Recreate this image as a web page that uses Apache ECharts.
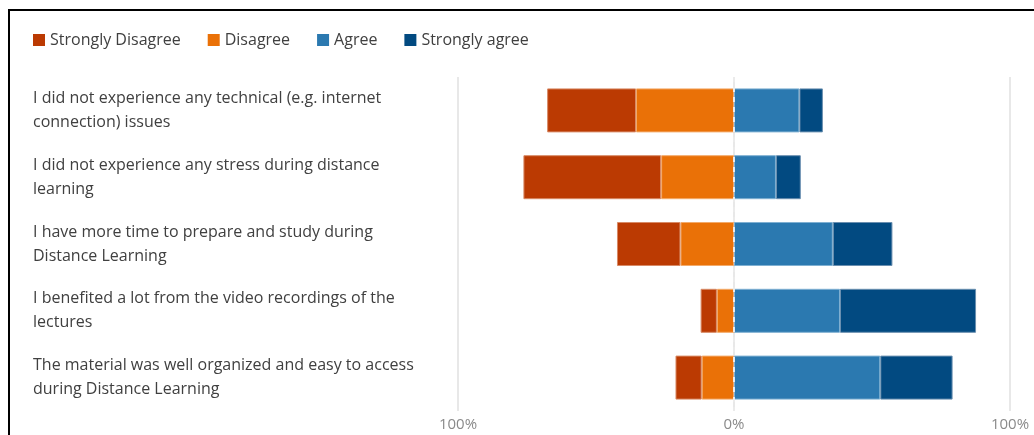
<!DOCTYPE html>
<html>
<head>
<meta charset="utf-8">
<script src="https://cdn.jsdelivr.net/npm/echarts@6/dist/echarts.min.js"></script>
<style>
  html, body { margin: 0; padding: 0; background: #fff; }
  #main { position: absolute; left: 0; top: 0; width: 1034px; height: 435px; }
  #frame { position: absolute; left: 8px; top: 9px; width: 1040px; height: 440px;
           border-top: 2px solid #000; border-left: 2px solid #000; pointer-events: none; }
</style>
</head>
<body>
<div id="main"></div>
<div id="frame"></div>
<script>
// 题目（自上而下）
var categories = [
  'I did not experience any technical (e.g. internet\nconnection) issues',
  'I did not experience any stress during distance\nlearning',
  'I have more time to prepare and study during\nDistance Learning',
  'I benefited a lot from the video recordings of the\nlectures',
  'The material was well organized and easy to access\nduring Distance Learning'
];
// 百分比，读图估计
var stronglyDisagree = [32.2, 49.9, 23.0, 5.9, 9.5];
var disagree = [35.5, 26.4, 19.4, 6.2, 11.7];
var agree = [23.7, 15.2, 35.8, 38.4, 53.0];
var stronglyAgree = [8.5, 9.0, 21.6, 49.3, 26.2];
var legendNames = ['Strongly Disagree', 'Disagree', 'Agree', 'Strongly agree'];
var axisTicks = [-100, 0, 100];

var colors = {
  'Strongly Disagree': '#bb3a02',
  'Disagree': '#ea7107',
  'Agree': '#2b79b0',
  'Strongly agree': '#024a81'
};
var borders = {
  'Strongly Disagree': '#d88a66',
  'Disagree': '#f3aa6a',
  'Agree': '#7fb0d2',
  'Strongly agree': '#6a8fb0'
};

function neg(arr){
  return arr.map(function(v){ return -v; });
}

function barSeries(name, data){
  return {
    name: name,
    type: 'bar',
    stack: 'total',
    barWidth: 44,
    data: data,
    itemStyle: { color: colors[name], borderColor: borders[name], borderWidth: 1 },
    emphasis: { disabled: true }
  };
}

var chart = echarts.init(document.getElementById('main'));
chart.setOption({
  animation: false,
  textStyle: { fontFamily: 'Open Sans' },
  legend: {
    data: legendNames,
    left: 28,
    top: 27,
    icon: 'rect',
    itemWidth: 12,
    itemHeight: 12,
    itemGap: 27,
    itemStyle: { borderWidth: 0 },
    textStyle: { fontSize: 16, color: '#404040', fontFamily: 'Open Sans' }
  },
  grid: { left: 458, right: 24, top: 77, bottom: 24, containLabel: false },
  xAxis: {
    type: 'value',
    min: -100,
    max: 100,
    interval: 100,
    axisLine: { show: false },
    axisTick: { show: false },
    axisLabel: {
      fontSize: 15, color: '#8a8a8a', margin: 6,
      formatter: function(v){ return axisTicks.indexOf(v) > -1 ? Math.abs(v) + '%' : ''; }
    },
    splitLine: {
      lineStyle: { color: ['#e8e8e8', '#e8e8e8', '#e8e8e8'], width: 2 }
    }
  },
  yAxis: {
    type: 'category',
    inverse: true,
    data: categories,
    axisLine: { show: false },
    axisTick: { show: false },
    axisLabel: {
      align: 'left',
      margin: 425,
      fontSize: 16,
      lineHeight: 24,
      color: '#404040'
    }
  },
  series: [
    barSeries('Disagree', neg(disagree)),
    barSeries('Strongly Disagree', neg(stronglyDisagree)),
    barSeries('Agree', agree),
    barSeries('Strongly agree', stronglyAgree),
    {
      // 0% 处的虚线
      type: 'line',
      data: [],
      markLine: {
        silent: true,
        symbol: 'none',
        label: { show: false },
        lineStyle: { color: '#ebebeb', type: [5, 5], width: 2 },
        data: [{ xAxis: 0 }]
      }
    }
  ]
});
</script>
</body>
</html>
